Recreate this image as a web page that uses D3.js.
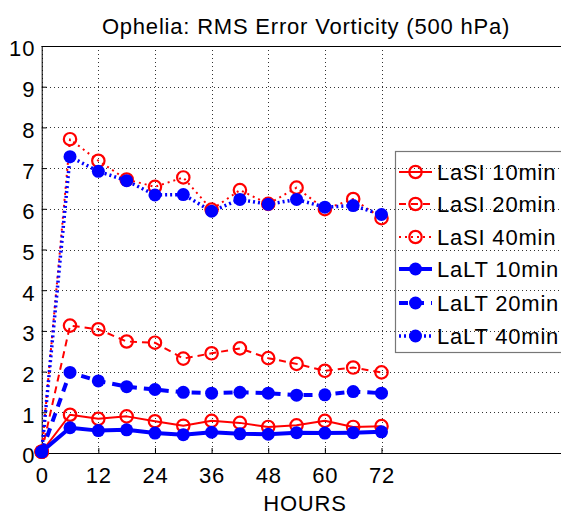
<!DOCTYPE html>
<html>
<head>
<meta charset="utf-8">
<script src="https://cdn.jsdelivr.net/npm/d3@7/dist/d3.min.js"></script>
<style>
  html, body { margin: 0; padding: 0; background: #fff; }
  svg { display: block; font-family: "Liberation Sans", Arial, Helvetica, sans-serif; }
  text { letter-spacing: 0.8px; }
</style>
</head>
<body>
<svg id="chart" width="561" height="514"></svg>
<script>
// Forecast hours
const hours = [0, 6, 12, 18, 24, 30, 36, 42, 48, 54, 60, 66, 72];

// RMS error of 500 hPa vorticity for each run
const lasi10 = [0.03, 0.94, 0.84, 0.90, 0.78, 0.67, 0.79, 0.74, 0.64, 0.68, 0.79, 0.64, 0.66];
const lasi20 = [0.03, 3.13, 3.04, 2.74, 2.71, 2.32, 2.45, 2.57, 2.33, 2.19, 2.02, 2.10, 1.98];
const lasi40 = [0.03, 7.71, 7.18, 6.72, 6.54, 6.77, 5.98, 6.46, 6.12, 6.52, 5.99, 6.24, 5.77];
const lalt10 = [0.03, 0.62, 0.55, 0.57, 0.49, 0.45, 0.51, 0.47, 0.46, 0.50, 0.49, 0.50, 0.52];
const lalt20 = [0.03, 1.98, 1.77, 1.63, 1.56, 1.49, 1.47, 1.49, 1.47, 1.42, 1.43, 1.51, 1.47];
const lalt40 = [0.03, 7.28, 6.92, 6.69, 6.34, 6.35, 5.94, 6.23, 6.11, 6.23, 6.04, 6.08, 5.86];

const seriesNames = ["LaSI 10min", "LaSI 20min", "LaSI 40min", "LaLT 10min", "LaLT 20min", "LaLT 40min"];
const xTicks = [0, 12, 24, 36, 48, 60, 72];
const yTicks = [0, 1, 2, 3, 4, 5, 6, 7, 8, 9, 10];

const titleText = "Ophelia: RMS Error Vorticity (500 hPa)";
const xLabel = "HOURS";

// Line styles per run
const RED = "#ff0000", BLUE = "#0000ff";
const styles = [
  { color: RED,  width: 2,   dash: null,  filled: false },
  { color: RED,  width: 2,   dash: "7,5", filled: false },
  { color: RED,  width: 2,   dash: "2,4", filled: false },
  { color: BLUE, width: 4,   dash: null,  filled: true },
  { color: BLUE, width: 4,   dash: "9,7", filled: true },
  { color: BLUE, width: 3.5, dash: "2,3", filled: true }
];
const seriesValues = [lasi10, lasi20, lasi40, lalt10, lalt20, lalt40];

const svg = d3.select("#chart");
const plotLeft = 41.7, plotTop = 46, plotBottom = 453;

const x = d3.scaleLinear().domain([0, 72]).range([plotLeft, 381.5]);
const y = d3.scaleLinear().domain([0, 10]).range([plotBottom, plotTop]);
const rightEdge = 570;

// Grid
const grid = svg.append("g").attr("stroke", "#333").attr("stroke-width", 1)
  .attr("stroke-dasharray", "1,3").attr("shape-rendering", "crispEdges");
yTicks.forEach(t => {
  grid.append("line").attr("x1", plotLeft).attr("x2", rightEdge)
    .attr("y1", Math.round(y(t)) + 0.5).attr("y2", Math.round(y(t)) + 0.5);
});
xTicks.forEach(t => {
  grid.append("line").attr("x1", Math.round(x(t)) + 0.5).attr("x2", Math.round(x(t)) + 0.5)
    .attr("y1", plotTop).attr("y2", plotBottom);
});

// Axes (ticks pointing inward)
const xAxis = d3.axisBottom(x).tickValues(xTicks).tickSize(-5).tickPadding(0).tickFormat(d3.format("d"));
const yAxis = d3.axisLeft(y).tickValues(yTicks).tickSize(-5).tickPadding(6.5).tickFormat(d3.format("d"));

const gx = svg.append("g").attr("transform", `translate(0,${plotBottom})`).call(xAxis);
const gy = svg.append("g").attr("transform", `translate(${plotLeft},0)`).call(yAxis);
[gx, gy].forEach(g => {
  g.select(".domain").remove();
  g.selectAll(".tick line").attr("stroke", "#000");
  g.selectAll(".tick text").attr("fill", "#000").attr("font-size", 22)
    .attr("font-family", "Liberation Sans, Arial, sans-serif");
});
gx.selectAll(".tick text").attr("y", 30).attr("dy", null);
gy.selectAll(".tick text").attr("dy", "0.45em");

// Box lines
svg.append("line").attr("x1", plotLeft).attr("x2", rightEdge).attr("y1", plotBottom + 0.5).attr("y2", plotBottom + 0.5)
  .attr("stroke", "#000").attr("stroke-width", 1);
svg.append("line").attr("x1", plotLeft).attr("x2", rightEdge).attr("y1", plotTop + 0.5).attr("y2", plotTop + 0.5)
  .attr("stroke", "#000").attr("stroke-width", 1);
svg.append("line").attr("x1", plotLeft + 0.5).attr("x2", plotLeft + 0.5).attr("y1", plotTop).attr("y2", plotBottom)
  .attr("stroke", "#000").attr("stroke-width", 1);

// Series
const line = d3.line().x((d, i) => x(hours[i])).y(d => y(d));
seriesValues.forEach((vals, k) => {
  const s = styles[k];
  const g = svg.append("g");
  g.append("path").datum(vals).attr("d", line).attr("fill", "none")
    .attr("stroke", s.color).attr("stroke-width", s.width)
    .attr("stroke-dasharray", s.dash).attr("stroke-linejoin", "round");
  g.selectAll("circle").data(vals).join("circle")
    .attr("cx", (d, i) => x(hours[i])).attr("cy", d => y(d))
    .attr("r", s.filled ? 6.5 : 6.2)
    .attr("fill", s.filled ? s.color : "none")
    .attr("stroke", s.color).attr("stroke-width", s.filled ? 0 : 2.2);
});

// Title and axis label
svg.append("text").attr("x", 306).attr("y", 34).attr("text-anchor", "middle")
  .attr("font-size", 22).text(titleText);
svg.append("text").attr("x", 305).attr("y", 510.5).attr("text-anchor", "middle")
  .attr("font-size", 22).text(xLabel);

// Legend (transparent, grid shows through)
const leg = svg.append("g");
leg.append("rect").attr("x", 395.5).attr("y", 151.5).attr("width", 200).attr("height", 201)
  .attr("fill", "none").attr("stroke", "#777").attr("stroke-width", 1.2);
const rowY = [172, 204, 237, 269, 303, 336];
seriesNames.forEach((name, k) => {
  const s = styles[k];
  const yy = rowY[k];
  leg.append("line").attr("x1", 399).attr("x2", 432).attr("y1", yy).attr("y2", yy)
    .attr("stroke", s.color).attr("stroke-width", s.width).attr("stroke-dasharray", s.dash);
  leg.append("circle").attr("cx", 415.5).attr("cy", yy).attr("r", s.filled ? 6.5 : 6.2)
    .attr("fill", s.filled ? s.color : "none").attr("stroke", s.color)
    .attr("stroke-width", s.filled ? 0 : 2.2);
  leg.append("text").attr("x", 437).attr("y", yy).attr("dy", "0.38em")
    .attr("font-size", 22).text(name);
});
</script>
</body>
</html>
